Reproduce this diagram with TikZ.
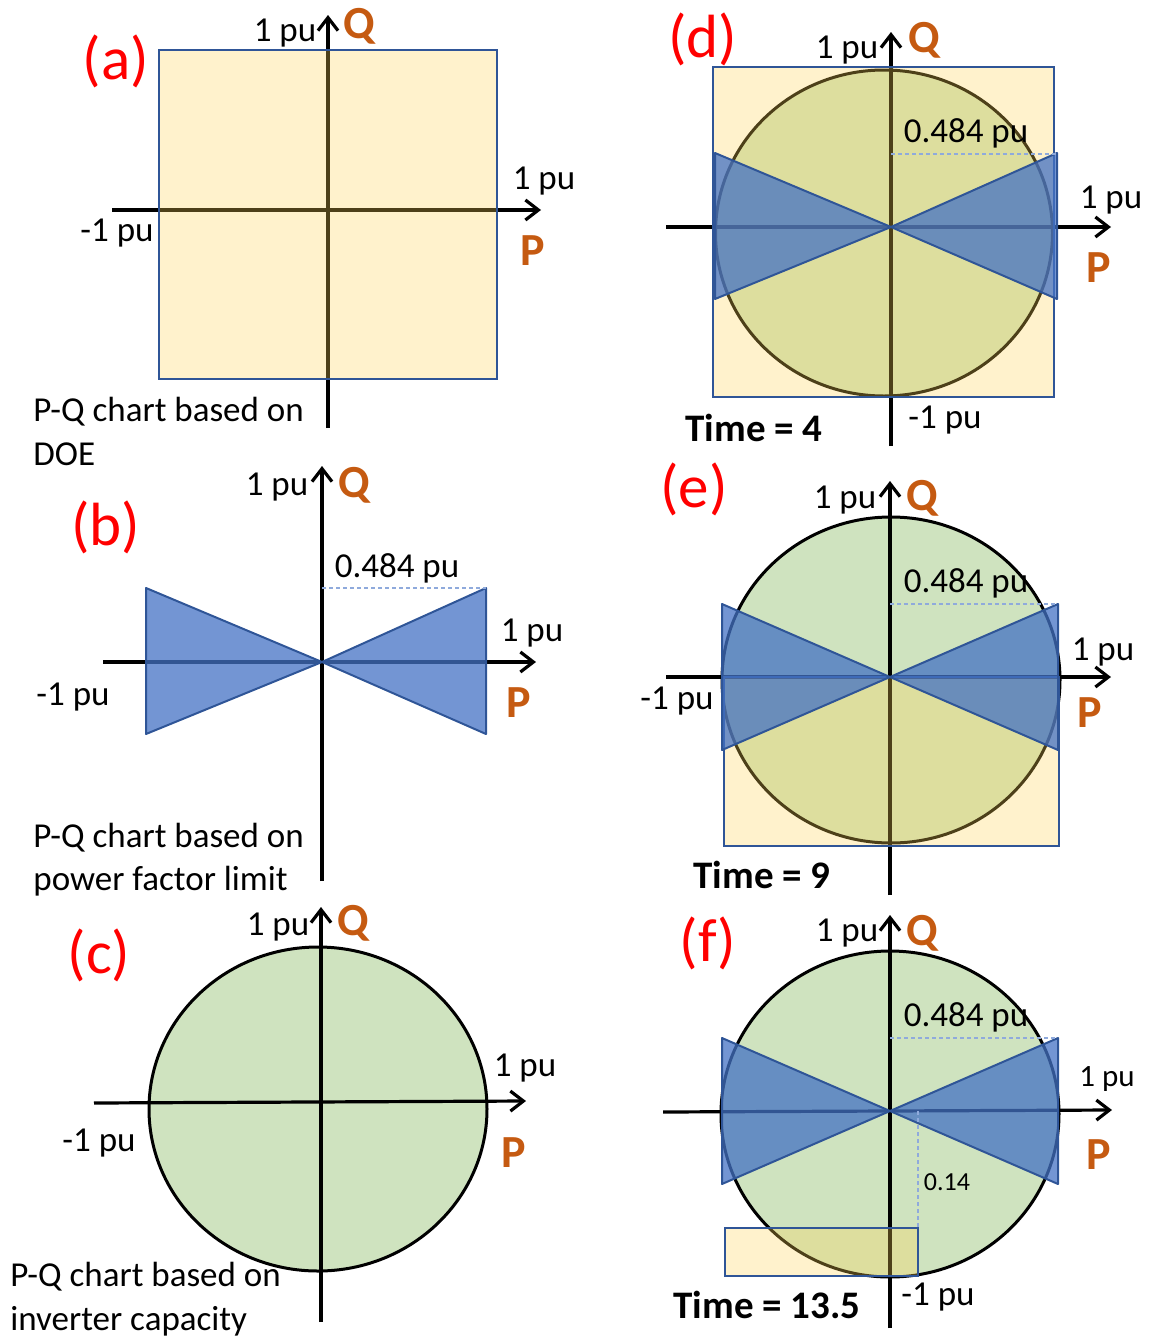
\documentclass[tikz,border=0pt]{standalone}
\usepackage{fontspec}
\setmainfont{Carlito}
\usetikzlibrary{arrows.meta}

\definecolor{doeyellow}{RGB}{255,212,85}
\definecolor{boxblue}{RGB}{47,85,151}
\definecolor{pfblue}{RGB}{68,114,196}
\definecolor{invgreen}{RGB}{207,227,191}
\definecolor{limblue}{RGB}{143,170,220}
\definecolor{pqorange}{RGB}{197,90,17}

\begin{document}
\begin{tikzpicture}[x=0.5pt,y=-0.5pt,
    axis/.style={line width=1.6pt,-{Straight Barb[length=6.5pt,width=10pt]}},
    doe/.style={fill=doeyellow,fill opacity=0.3,draw=boxblue,line width=1.1pt},
    pf/.style={fill=pfblue,fill opacity=0.75,draw=boxblue,line width=1pt,line join=round},
    inv/.style={fill=invgreen,draw=black,line width=1.5pt},
    lim/.style={draw=limblue,line width=0.7pt,dash pattern=on 2pt off 1.5pt},
    pu/.style={inner sep=0pt,font=\fontsize{17.5}{20}\selectfont},
    smallpu/.style={inner sep=0pt,font=\fontsize{15.5}{18}\selectfont},
    cutlbl/.style={inner sep=0pt,font=\fontsize{13}{15}\selectfont},
    qp/.style={inner sep=0pt,text=pqorange,font=\fontsize{23}{26}\selectfont\bfseries},
    tag/.style={inner sep=0pt,text=red,font=\fontsize{30.5}{34}\selectfont},
    captxt/.style={inner sep=0pt,anchor=west,font=\fontsize{17.5}{20}\selectfont},
    timelbl/.style={inner sep=0pt,font=\fontsize{19.5}{23}\selectfont\bfseries}]
  \useasboundingbox (0,0) rectangle (1150,1339);

  % (a) DOE
  \draw[axis] (328,428) -- (328,15);
  \draw[axis] (112,210) -- (541,210);
  \filldraw[doe] (159,50) rectangle (497,379);
  \node[pu] (aTop) at (285,33) {1 pu};
  \node[qp] (aQ) at (359,26) {Q};
  \node[pu] (aRight) at (544,181) {1 pu};
  \node[pu] (aLeft) at (117,233) {-1 pu};
  \node[qp] (aP) at (533,251) {P};
  \node[tag] (aTag) at (116,61) {(a)};
  \node[captxt] (aCap1) at (33,412) {P-Q chart based on};
  \node[captxt] (aCap2) at (33,454) {DOE};

  % (b) power factor
  \draw[axis] (322,881) -- (322,466);
  \draw[axis] (103,662) -- (536,662);
  \filldraw[pf] (146,588) -- (322,662) -- (486,588) -- (486,734) -- (322,662) -- (146,734) -- cycle;
  \draw[lim] (322,588) -- (486,588);
  \node[pu] (bLim) at (397,568) {0.484 pu};
  \node[pu] (bTop) at (277,487) {1 pu};
  \node[qp] (bQ) at (354,485) {Q};
  \node[pu] (bRight) at (532,633) {1 pu};
  \node[pu] (bLeft) at (73,697) {-1 pu};
  \node[qp] (bP) at (519,703) {P};
  \node[tag] (bTag) at (106,527) {(b)};
  \node[captxt] (bCap1) at (33,838) {P-Q chart based on};
  \node[captxt] (bCap2) at (33,881) {power factor limit};

  % (c) inverter
  \filldraw[inv] (318,1109) ellipse [x radius=169, y radius=162];
  \draw[axis] (321,1322) -- (321,907);
  \draw[axis] (94,1103) -- (526,1101);
  \node[pu] (cTop) at (278,927) {1 pu};
  \node[qp] (cQ) at (353,923) {Q};
  \node[pu] (cRight) at (525,1068) {1 pu};
  \node[pu] (cLeft) at (99,1143) {-1 pu};
  \node[qp] (cP) at (514,1153) {P};
  \node[tag] (cTag) at (99,955) {(c)};
  \node[captxt] (cCap1) at (10,1277) {P-Q chart based on};
  \node[captxt] (cCap2) at (10,1321) {inverter capacity};

  % (d) time 4
  \filldraw[inv] (884,233) ellipse [x radius=168.5, y radius=163];
  \draw[axis] (891,446) -- (891,32);
  \draw[axis] (666,227) -- (1111,227);
  \filldraw[doe] (713,67) rectangle (1054,397);
  \filldraw[pf] (715,153) -- (891,227) -- (1057,153) -- (1057,299) -- (891,227) -- (715,299) -- cycle;
  \draw[lim] (891,154) -- (1057,154);
  \node[pu] (dLim) at (966,133) {0.484 pu};
  \node[pu] (dTop) at (847,50) {1 pu};
  \node[qp] (dQ) at (924,40) {Q};
  \node[pu] (dRight) at (1111,200) {1 pu};
  \node[qp] (dP) at (1099,268) {P};
  \node[pu] (dBottom) at (945,420) {-1 pu};
  \node[timelbl] (dTime) at (754,428) {Time = 4};
  \node[tag] (dTag) at (703,39) {(d)};

  % (e) time 9
  \filldraw[inv] (891,680) ellipse [x radius=169, y radius=163];
  \draw[axis] (890,895) -- (890,481);
  \draw[axis] (666,677) -- (1111,677);
  \filldraw[doe] (724,677) rectangle (1059,846);
  \filldraw[pf] (722,604) -- (890,677) -- (1058,604) -- (1058,750) -- (890,677) -- (722,750) -- cycle;
  \draw[lim] (890,604) -- (1058,604);
  \node[pu] (eLim) at (966,583) {0.484 pu};
  \node[pu] (eTop) at (845,500) {1 pu};
  \node[qp] (eQ) at (922,498) {Q};
  \node[pu] (eRight) at (1103,652) {1 pu};
  \node[pu] (eLeft) at (677,701) {-1 pu};
  \node[qp] (eP) at (1090,713) {P};
  \node[timelbl] (eTime) at (762,875) {Time = 9};
  \node[tag] (eTag) at (694,489) {(e)};

  % (f) time 13.5
  \filldraw[inv] (890,1114) ellipse [x radius=169, y radius=163];
  \draw[axis] (890,1328) -- (890,915);
  \draw[axis] (663,1112) -- (1112,1110);
  \filldraw[pf] (722,1038) -- (890,1111) -- (1058,1038) -- (1058,1184) -- (890,1111) -- (722,1184) -- cycle;
  \filldraw[doe] (725,1228) rectangle (918,1276);
  \draw[lim] (890,1038) -- (1058,1038);
  \draw[lim] (918,1111) -- (918,1228);
  \node[pu] (fLim) at (966,1017) {0.484 pu};
  \node[pu] (fTop) at (847,933) {1 pu};
  \node[qp] (fQ) at (922,933) {Q};
  \node[smallpu] (fRight) at (1107,1079) {1 pu};
  \node[qp] (fP) at (1099,1155) {P};
  \node[cutlbl] (fCut) at (947,1182) {0.14};
  \node[pu] (fBottom) at (938,1297) {-1 pu};
  \node[timelbl] (fTime) at (767,1305) {Time = 13.5};
  \node[tag] (fTag) at (708,943) {(f)};
\end{tikzpicture}
\end{document}
